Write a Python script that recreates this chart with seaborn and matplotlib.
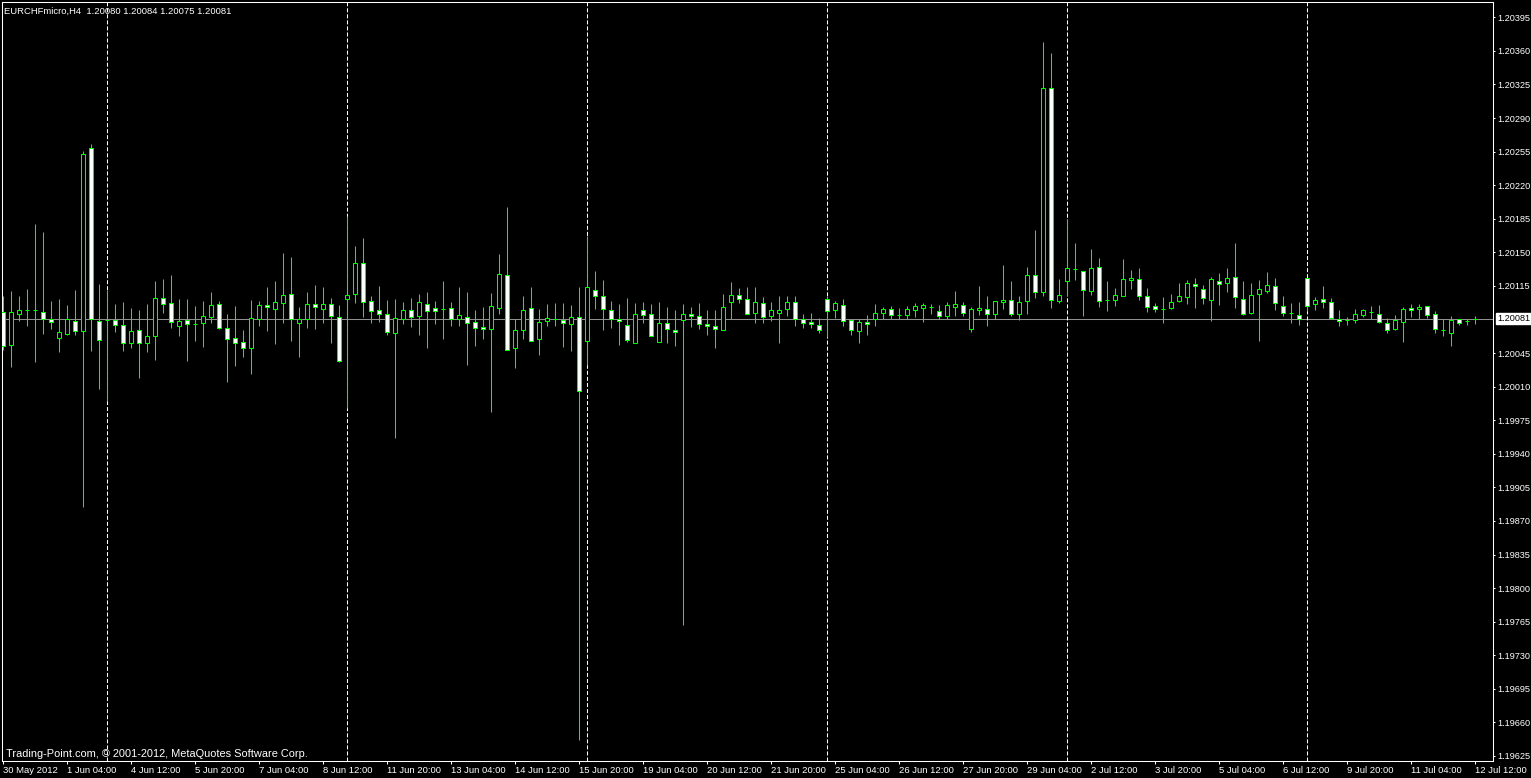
import numpy as np
import pandas as pd
import matplotlib
matplotlib.use("Agg")
import matplotlib.pyplot as plt
import seaborn as sns

# ---------------- data ----------------
title_text = "EURCHFmicro,H4  1.20080 1.20084 1.20075 1.20081"
copyright_text = "Trading-Point.com, \u00a9 2001-2012, MetaQuotes Software Corp."
bid_price = 1.20081

opens = [
    1.20088, 1.20053, 1.20086, 1.20090, 1.20090, 1.20088, 1.20081, 1.20061, 1.20065, 1.20078,
    1.20068, 1.20259, 1.20078, 1.20079, 1.20079, 1.20074, 1.20055, 1.20069, 1.20056, 1.20063,
    1.20102, 1.20097, 1.20073, 1.20079, 1.20075, 1.20076, 1.20083, 1.20096, 1.20071, 1.20061,
    1.20057, 1.20050, 1.20081, 1.20095, 1.20091, 1.20097, 1.20107, 1.20076, 1.20081, 1.20096,
    1.20091, 1.20096, 1.20083, 1.20101, 1.20107, 1.20139, 1.20099, 1.20090, 1.20086, 1.20066,
    1.20081, 1.20090, 1.20084, 1.20096, 1.20092, 1.20091, 1.20092, 1.20080, 1.20083, 1.20077,
    1.20072, 1.20070, 1.20092, 1.20126, 1.20050, 1.20069, 1.20092, 1.20060, 1.20078, 1.20081,
    1.20079, 1.20075, 1.20083, 1.20058, 1.20111, 1.20105, 1.20090, 1.20081, 1.20074, 1.20056,
    1.20090, 1.20086, 1.20057, 1.20076, 1.20069, 1.20079, 1.20086, 1.20084, 1.20075, 1.20073,
    1.20069, 1.20098, 1.20106, 1.20101, 1.20087, 1.20097, 1.20084, 1.20087, 1.20091, 1.20098,
    1.20081, 1.20077, 1.20074, 1.20101, 1.20090, 1.20095, 1.20079, 1.20068, 1.20077, 1.20080,
    1.20087, 1.20091, 1.20085, 1.20085, 1.20090, 1.20092, 1.20093, 1.20089, 1.20084, 1.20093,
    1.20095, 1.20070, 1.20090, 1.20091, 1.20086, 1.20098, 1.20100, 1.20086, 1.20099, 1.20126,
    1.20109, 1.20321, 1.20099, 1.20120, 1.20133, 1.20131, 1.20110, 1.20135, 1.20100, 1.20100,
    1.20105, 1.20121, 1.20122, 1.20105, 1.20094, 1.20091, 1.20092, 1.20099, 1.20103, 1.20117,
    1.20112, 1.20100, 1.20120, 1.20118, 1.20124, 1.20101, 1.20087, 1.20107, 1.20110, 1.20115,
    1.20094, 1.20087, 1.20085, 1.20123, 1.20096, 1.20101, 1.20098, 1.20081, 1.20079, 1.20079,
    1.20085, 1.20088, 1.20086, 1.20076, 1.20070, 1.20077, 1.20092, 1.20091, 1.20094, 1.20086,
    1.20069, 1.20066, 1.20080, 1.20078, 1.20080,
]
highs = [
    1.20104, 1.20110, 1.20104, 1.20112, 1.20180, 1.20171, 1.20099, 1.20101, 1.20095, 1.20111,
    1.20256, 1.20263, 1.20117, 1.20111, 1.20096, 1.20098, 1.20092, 1.20090, 1.20096, 1.20120,
    1.20122, 1.20126, 1.20101, 1.20101, 1.20094, 1.20099, 1.20109, 1.20099, 1.20086, 1.20094,
    1.20069, 1.20100, 1.20099, 1.20114, 1.20120, 1.20149, 1.20145, 1.20093, 1.20109, 1.20116,
    1.20114, 1.20102, 1.20095, 1.20188, 1.20157, 1.20165, 1.20105, 1.20115, 1.20100, 1.20101,
    1.20098, 1.20102, 1.20107, 1.20109, 1.20099, 1.20120, 1.20098, 1.20114, 1.20109, 1.20090,
    1.20093, 1.20108, 1.20148, 1.20197, 1.20080, 1.20105, 1.20114, 1.20091, 1.20096, 1.20097,
    1.20097, 1.20095, 1.20114, 1.20167, 1.20131, 1.20121, 1.20099, 1.20096, 1.20102, 1.20097,
    1.20098, 1.20096, 1.20098, 1.20093, 1.20090, 1.20096, 1.20093, 1.20097, 1.20090, 1.20090,
    1.20107, 1.20119, 1.20113, 1.20114, 1.20114, 1.20103, 1.20098, 1.20105, 1.20105, 1.20105,
    1.20086, 1.20087, 1.20082, 1.20104, 1.20099, 1.20101, 1.20081, 1.20081, 1.20085, 1.20096,
    1.20093, 1.20094, 1.20092, 1.20094, 1.20097, 1.20097, 1.20096, 1.20095, 1.20098, 1.20110,
    1.20098, 1.20093, 1.20115, 1.20105, 1.20099, 1.20137, 1.20120, 1.20105, 1.20135, 1.20173,
    1.20369, 1.20358, 1.20122, 1.20185, 1.20160, 1.20131, 1.20154, 1.20144, 1.20120, 1.20113,
    1.20143, 1.20132, 1.20134, 1.20113, 1.20097, 1.20103, 1.20107, 1.20118, 1.20121, 1.20123,
    1.20116, 1.20124, 1.20128, 1.20134, 1.20160, 1.20120, 1.20118, 1.20121, 1.20129, 1.20123,
    1.20104, 1.20097, 1.20098, 1.20123, 1.20103, 1.20115, 1.20102, 1.20090, 1.20083, 1.20091,
    1.20091, 1.20094, 1.20095, 1.20082, 1.20085, 1.20093, 1.20096, 1.20096, 1.20094, 1.20089,
    1.20081, 1.20084, 1.20081, 1.20081, 1.20084,
]
lows = [
    1.20048, 1.20031, 1.20078, 1.20073, 1.20036, 1.20065, 1.20070, 1.20046, 1.20064, 1.20064,
    1.19885, 1.20047, 1.20008, 1.19995, 1.20067, 1.20047, 1.20050, 1.20019, 1.20046, 1.20038,
    1.20087, 1.20071, 1.20063, 1.20037, 1.20058, 1.20051, 1.20076, 1.20070, 1.20015, 1.20032,
    1.20041, 1.20023, 1.20073, 1.20068, 1.20054, 1.20076, 1.20058, 1.20041, 1.20071, 1.20070,
    1.20076, 1.20055, 1.20036, 1.19988, 1.20097, 1.20083, 1.20076, 1.20077, 1.20064, 1.19956,
    1.20075, 1.20072, 1.20064, 1.20050, 1.20075, 1.20060, 1.20073, 1.20073, 1.20033, 1.20052,
    1.20060, 1.19984, 1.20086, 1.20048, 1.20029, 1.20060, 1.20058, 1.20043, 1.20073, 1.20073,
    1.20051, 1.20047, 1.19642, 1.20033, 1.20091, 1.20069, 1.20071, 1.20053, 1.20057, 1.20056,
    1.20076, 1.20063, 1.20057, 1.20056, 1.20052, 1.19762, 1.20072, 1.20070, 1.20064, 1.20050,
    1.20069, 1.20080, 1.20097, 1.20086, 1.20076, 1.20076, 1.20078, 1.20056, 1.20084, 1.20073,
    1.20071, 1.20071, 1.20066, 1.20062, 1.20082, 1.20073, 1.20064, 1.20056, 1.20064, 1.20073,
    1.20081, 1.20081, 1.20080, 1.20080, 1.20083, 1.20077, 1.20086, 1.20081, 1.20081, 1.20084,
    1.20084, 1.20067, 1.20085, 1.20073, 1.20080, 1.20091, 1.20084, 1.20079, 1.20086, 1.20102,
    1.20104, 1.20092, 1.20097, 1.20105, 1.20121, 1.20084, 1.20106, 1.20093, 1.20089, 1.20094,
    1.20105, 1.20112, 1.20100, 1.20088, 1.20088, 1.20076, 1.20091, 1.20098, 1.20096, 1.20092,
    1.20096, 1.20078, 1.20095, 1.20109, 1.20092, 1.20085, 1.20086, 1.20058, 1.20108, 1.20090,
    1.20084, 1.20076, 1.20074, 1.20089, 1.20090, 1.20092, 1.20082, 1.20073, 1.20074, 1.20076,
    1.20083, 1.20080, 1.20076, 1.20066, 1.20069, 1.20057, 1.20083, 1.20080, 1.20082, 1.20066,
    1.20063, 1.20052, 1.20074, 1.20074, 1.20075,
]
closes = [
    1.20052, 1.20088, 1.20090, 1.20090, 1.20090, 1.20080, 1.20077, 1.20067, 1.20080, 1.20068,
    1.20252, 1.20080, 1.20059, 1.20079, 1.20074, 1.20055, 1.20068, 1.20055, 1.20063, 1.20102,
    1.20096, 1.20077, 1.20078, 1.20075, 1.20075, 1.20084, 1.20095, 1.20071, 1.20060, 1.20056,
    1.20050, 1.20082, 1.20095, 1.20093, 1.20098, 1.20106, 1.20080, 1.20080, 1.20096, 1.20093,
    1.20096, 1.20084, 1.20037, 1.20106, 1.20139, 1.20098, 1.20089, 1.20086, 1.20067, 1.20082,
    1.20090, 1.20083, 1.20098, 1.20089, 1.20089, 1.20091, 1.20080, 1.20085, 1.20076, 1.20071,
    1.20070, 1.20094, 1.20127, 1.20048, 1.20069, 1.20090, 1.20058, 1.20077, 1.20082, 1.20081,
    1.20076, 1.20083, 1.20005, 1.20114, 1.20105, 1.20091, 1.20081, 1.20078, 1.20059, 1.20086,
    1.20085, 1.20063, 1.20076, 1.20070, 1.20067, 1.20086, 1.20084, 1.20075, 1.20073, 1.20070,
    1.20093, 1.20106, 1.20101, 1.20086, 1.20098, 1.20083, 1.20090, 1.20090, 1.20098, 1.20081,
    1.20076, 1.20075, 1.20069, 1.20089, 1.20097, 1.20078, 1.20069, 1.20077, 1.20075, 1.20087,
    1.20091, 1.20085, 1.20085, 1.20091, 1.20094, 1.20095, 1.20093, 1.20084, 1.20095, 1.20096,
    1.20087, 1.20091, 1.20092, 1.20086, 1.20099, 1.20100, 1.20086, 1.20098, 1.20126, 1.20109,
    1.20321, 1.20100, 1.20106, 1.20134, 1.20133, 1.20111, 1.20134, 1.20099, 1.20100, 1.20106,
    1.20122, 1.20123, 1.20104, 1.20093, 1.20091, 1.20091, 1.20098, 1.20104, 1.20118, 1.20115,
    1.20102, 1.20122, 1.20117, 1.20123, 1.20103, 1.20086, 1.20106, 1.20112, 1.20116, 1.20097,
    1.20087, 1.20087, 1.20080, 1.20094, 1.20100, 1.20098, 1.20082, 1.20078, 1.20079, 1.20086,
    1.20090, 1.20088, 1.20077, 1.20069, 1.20079, 1.20091, 1.20090, 1.20093, 1.20085, 1.20070,
    1.20069, 1.20079, 1.20076, 1.20078, 1.20081,
]

# week separators (bar index of Monday 00:00)
separator_bars = [13, 43, 73, 103, 133, 163]

# time axis labels, one every 8 bars
time_labels = [
    "30 May 2012", "1 Jun 04:00", "4 Jun 12:00", "5 Jun 20:00", "7 Jun 04:00",
    "8 Jun 12:00", "11 Jun 20:00", "13 Jun 04:00", "14 Jun 12:00", "15 Jun 20:00",
    "19 Jun 04:00", "20 Jun 12:00", "21 Jun 20:00", "25 Jun 04:00", "26 Jun 12:00",
    "27 Jun 20:00", "29 Jun 04:00", "2 Jul 12:00", "3 Jul 20:00", "5 Jul 04:00",
    "6 Jul 12:00", "9 Jul 20:00", "11 Jul 04:00", "12 Jul 12:00",
]
time_label_step = 8

# price axis labels
price_ticks = [round(1.20395 - 0.00035 * k, 5) for k in range(23)]

# ---------------- style ----------------
LIME = "#00ff00"
sns.set_theme(style="dark", rc={
    "axes.facecolor": "black",
    "figure.facecolor": "black",
    "axes.edgecolor": "white",
    "axes.linewidth": 0.75,
    "text.color": "white",
    "xtick.color": "white",
    "ytick.color": "white",
    "axes.grid": False,
})
plt.rcParams["font.family"] = ["Liberation Sans", "DejaVu Sans"]
plt.rcParams["lines.scale_dashes"] = False

W, H = 1531, 778
fig = plt.figure(figsize=(W / 100, H / 100), dpi=100)
ax_l, ax_r, ax_t, ax_b = 2, 1493, 2, 761
ax = fig.add_axes([ax_l / W, 1 - ax_b / H, (ax_r - ax_l) / W, (ax_b - ax_t) / H])
ax.set_facecolor("black")

df = pd.DataFrame({"open": opens, "high": highs, "low": lows, "close": closes})
df["x"] = np.arange(len(df))
df["bull"] = df["close"] >= df["open"]

# bid line and separators
ax.axhline(bid_price, color="#8f8f8f", lw=0.75, zorder=1)
for b in separator_bars:
    ax.axvline(b, color="white", lw=0.75, ls=(0, (2.9, 1.45)), zorder=1)

# wicks
ax.vlines(df["x"], df["low"], df["high"], colors=LIME, lw=0.75, zorder=3)
# bodies
ax.bar(df["x"], df["close"] - df["open"], bottom=df["open"], width=0.5,
       color=np.where(df["bull"], "black", "white"), edgecolor=LIME,
       linewidth=0.75, zorder=4)

# limits: bar i at pixel 3.3 + 8 i ; price -> pixel mapping from axis labels
px_per_bar = 8.0
x0 = 3.3
ax.set_xlim((ax_l - x0) / px_per_bar, (ax_r - x0) / px_per_bar)
ppu = 95935.0
ax.set_ylim(1.20395 - (ax_b - 17.3) / ppu, 1.20395 + (17.3 - ax_t) / ppu)

for s in ax.spines.values():
    s.set_color("white")
    s.set_linewidth(0.75)

# y axis on the right
ax.yaxis.tick_right()
ytk = [v for v in price_ticks if abs(v - 1.20080) > 1e-7]
ax.set_yticks(ytk)
ax.set_yticklabels([f"{v:.5f}" for v in ytk])
ax.tick_params(axis="y", which="both", right=True, left=False, labelright=True,
               labelleft=False, direction="out", length=1.5, width=0.75,
               colors="white", labelsize=6.6, pad=1.5)

# x axis
xt = [k * time_label_step for k in range(len(time_labels))]
ax.set_xticks(xt)
ax.set_xticklabels(time_labels)
ax.tick_params(axis="x", which="both", bottom=True, top=False, direction="out",
               length=2.5, width=0.75, colors="white", labelsize=6.8, pad=1.2)
for lbl in ax.get_xticklabels():
    lbl.set_horizontalalignment("left")

# current price box
ax.annotate(f"{bid_price:.5f}", xy=(1, bid_price), xycoords=("axes fraction", "data"),
            xytext=(2.8, 0), textcoords="offset points", ha="left", va="center",
            color="black", fontsize=6.6,
            bbox=dict(boxstyle="square,pad=0.12", fc="white", ec="white"),
            annotation_clip=False)

# header and copyright texts
fig.text(4 / W, 1 - 13.5 / H, title_text, ha="left", va="baseline",
         color="white", fontsize=6.8)
fig.text(6 / W, 1 - 757 / H, copyright_text, ha="left", va="baseline",
         color="white", fontsize=7.9)

fig.savefig("out.png", dpi=100, facecolor="black")
